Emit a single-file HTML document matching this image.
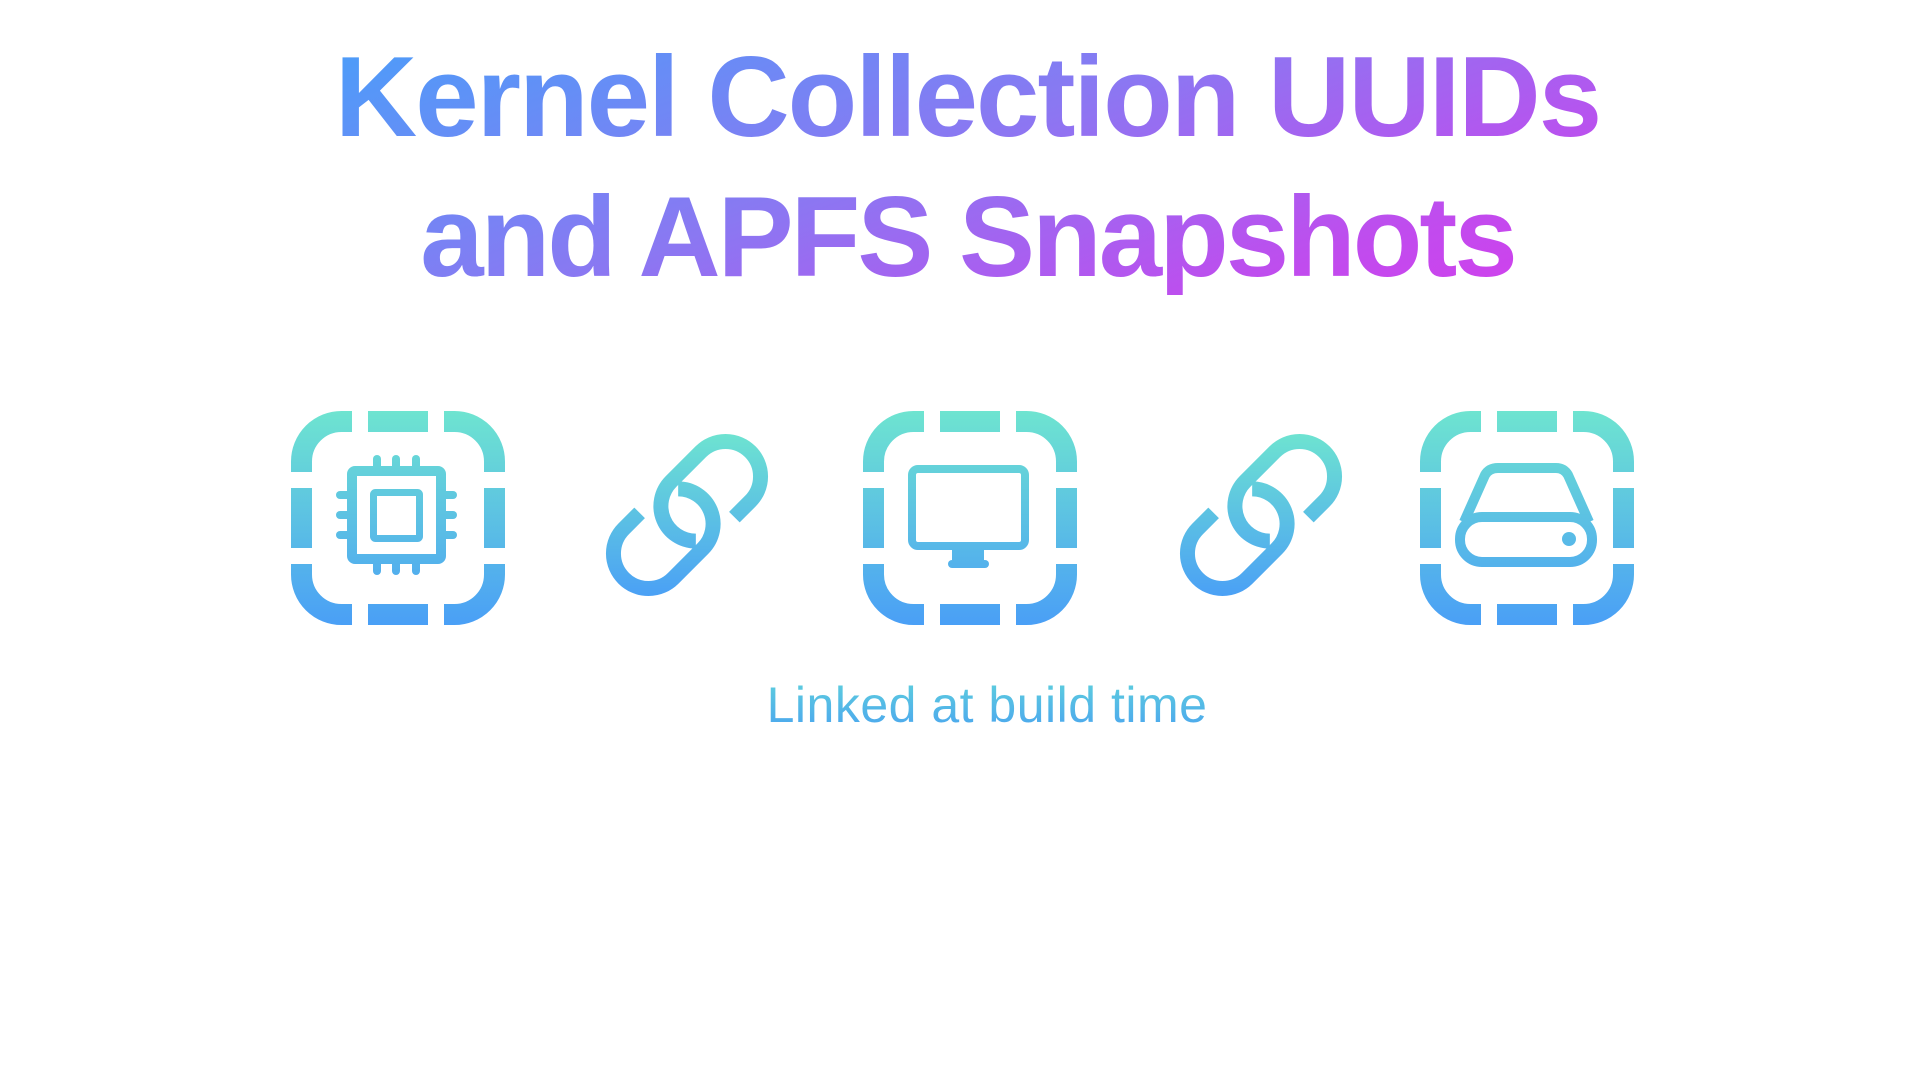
<!DOCTYPE html>
<html><head><meta charset="utf-8"><style>
html,body{margin:0;padding:0;background:#fff;width:1920px;height:1080px;overflow:hidden}
.t{position:absolute;left:330px;width:1275px;text-align:center;font-family:"Liberation Sans",sans-serif;font-weight:bold;font-size:114px;letter-spacing:-2px;line-height:1;
background:linear-gradient(160deg,#4a9ef9 0%,#8a78f2 45%,#c04cee 80%,#d63cec 100%);background-size:1275px 260px;-webkit-background-clip:text;background-clip:text;color:transparent}
.l1{top:41px;background-position:0 0}
.l2{top:181px;background-position:0 -140px;letter-spacing:-3px}
.cap{position:absolute;left:760px;width:454px;top:675px;text-align:center;font-family:"Liberation Sans",sans-serif;font-size:50px;letter-spacing:0.5px;line-height:60px;
background:linear-gradient(180deg,#5fd2dc,#4aa2f0);-webkit-background-clip:text;background-clip:text;color:transparent}
</style></head><body>
<div class="t l1">Kernel Collection UUIDs</div>
<div class="t l2">and APFS Snapshots</div>
<div class="cap">Linked at build time</div>
<svg width="1920" height="1080" style="position:absolute;left:0;top:0">
<defs>
<linearGradient id="g" x1="0" y1="411" x2="0" y2="624" gradientUnits="userSpaceOnUse">
<stop offset="0" stop-color="#6ee4d0"/><stop offset="1" stop-color="#4a9ff6"/></linearGradient>
<linearGradient id="gf" x1="0" y1="0" x2="0" y2="214" gradientUnits="userSpaceOnUse">
<stop offset="0" stop-color="#6ee4d0"/><stop offset="1" stop-color="#4a9ff6"/></linearGradient>
<linearGradient id="gl" x1="0" y1="-84" x2="0" y2="84" gradientUnits="userSpaceOnUse" gradientTransform="rotate(45)">
<stop offset="0" stop-color="#6ee4d0"/><stop offset="1" stop-color="#4a9ff6"/></linearGradient>
<g id="frame">
<rect x="10.5" y="10.5" width="193" height="193" rx="40" fill="none" stroke="url(#gf)" stroke-width="21"/>
<rect x="61" y="-5" width="16" height="225" fill="#fff"/>
<rect x="137" y="-5" width="16" height="225" fill="#fff"/>
<rect x="-5" y="61" width="225" height="16" fill="#fff"/>
<rect x="-5" y="137" width="225" height="16" fill="#fff"/>
</g>
<g id="link">
<g transform="rotate(-45)" fill="none" stroke="url(#gl)" stroke-width="15" stroke-linecap="butt">
<path d="M32,35 L54.5,35 A35,35 0 0 0 54.5,-35 L12.5,-35 A35,35 0 0 0 -12.2,24.7"/>
<path d="M-32,-35 L-54.5,-35 A35,35 0 0 0 -54.5,35 L-12.5,35 A35,35 0 0 0 12.2,-24.7"/>
</g>
</g>
</defs>
<g transform="translate(291,411)"><use href="#frame"/></g>
<g transform="translate(863,411)"><use href="#frame"/></g>
<g transform="translate(1420,411)"><use href="#frame"/></g>
<!-- CPU -->
<g stroke="url(#g)" fill="none">
<rect x="352" y="471" width="89" height="88" rx="3" stroke-width="10"/>
<rect x="373.5" y="492.5" width="46" height="46" rx="2" stroke-width="7"/>
<g stroke-width="8" stroke-linecap="round">
<line x1="377" y1="459" x2="377" y2="466"/><line x1="396" y1="459" x2="396" y2="466"/><line x1="416" y1="459" x2="416" y2="466"/>
<line x1="377" y1="564" x2="377" y2="571"/><line x1="396" y1="564" x2="396" y2="571"/><line x1="416" y1="564" x2="416" y2="571"/>
<line x1="340" y1="495" x2="347" y2="495"/><line x1="340" y1="515" x2="347" y2="515"/><line x1="340" y1="535" x2="347" y2="535"/>
<line x1="446" y1="495" x2="453" y2="495"/><line x1="446" y1="515" x2="453" y2="515"/><line x1="446" y1="535" x2="453" y2="535"/>
</g>
</g>
<!-- Monitor -->
<g fill="url(#g)">
<rect x="912" y="469" width="113" height="77" rx="6" fill="none" stroke="url(#g)" stroke-width="8"/>
<rect x="952" y="549" width="32" height="13"/>
<rect x="948" y="560" width="41" height="8" rx="4"/>
</g>
<!-- Drive -->
<g fill="none" stroke="url(#g)" stroke-width="10" stroke-linejoin="round">
<path d="M1464,522 L1485,475 Q1489,468 1498,468 L1556,468 Q1564,468 1568,475 L1589,522"/>
<rect x="1460" y="517" width="132" height="45" rx="22"/>
</g>
<circle cx="1569" cy="539" r="7" fill="url(#g)"/>
<!-- Links -->
<g transform="translate(687,515)"><use href="#link"/></g>
<g transform="translate(1261,515)"><use href="#link"/></g>
</svg>
</body></html>
